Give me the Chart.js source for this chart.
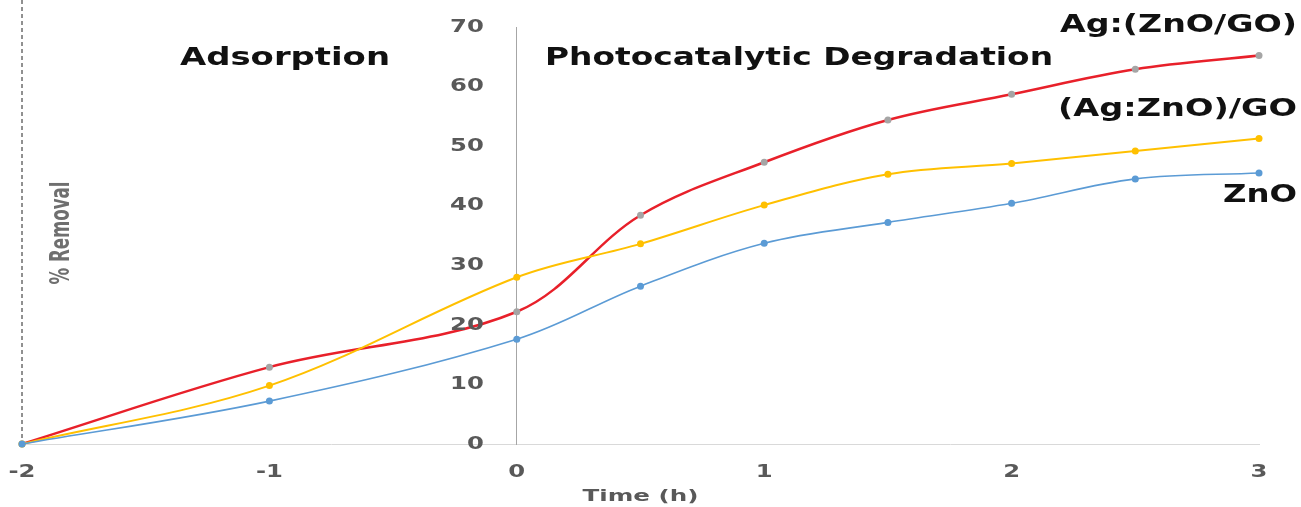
<!DOCTYPE html>
<html>
<head>
<meta charset="utf-8">
<script src="https://cdn.jsdelivr.net/npm/chart.js@4/dist/chart.umd.min.js"></script>
<style>
  body { margin: 0; background: #fff; }
  canvas { display: block; }
</style>
</head>
<body>
<canvas id="chart" width="1301" height="507"></canvas>
<script>
// time in hours (negative = dark adsorption stage)
const times = [-2, -1, 0, 0.5, 1, 1.5, 2, 2.5, 3];
const zno = [0, 7.2, 17.6, 26.5, 33.7, 37.2, 40.4, 44.5, 45.5];
const agZnoGo = [0, 9.8, 28.0, 33.6, 40.1, 45.3, 47.1, 49.2, 51.3];   // (Ag:ZnO)/GO
const agZnoGoB = [0, 12.9, 22.2, 38.4, 47.3, 54.4, 58.7, 62.9, 65.2]; // Ag:(ZnO/GO)
const xTicks = [-2, -1, 0, 1, 2, 3];
const yTicks = [0, 10, 20, 30, 40, 50, 60, 70];

const toPoints = arr => times.map((t, i) => ({ x: t, y: arr[i] }));

// draw text stretched horizontally (the source picture is wide)
function stretchText(ctx, text, x, y, opts) {
    ctx.save();
    ctx.font = opts.font;
    const w = ctx.measureText(text).width;
    const sx = opts.width ? opts.width / w : (opts.sx || 1);
    let left = x;
    if (opts.align === 'center') left = x - w * sx / 2;
    if (opts.align === 'right') left = x - w * sx;
    ctx.translate(left, y);
    ctx.scale(sx, 1);
    ctx.textAlign = 'left';
    ctx.textBaseline = 'middle';
    ctx.fillStyle = opts.color || '#111';
    ctx.fillText(text, 0, 0);
    ctx.restore();
}

const labelsPlugin = {
    id: 'labels',
    beforeDatasetsDraw(chart) {
        const { ctx, scales: { x } } = chart;
        // dashed line at the start of adsorption
        const px = x.getPixelForValue(-2);
        ctx.save();
        ctx.strokeStyle = '#222';
        ctx.lineWidth = 1;
        ctx.setLineDash([4, 3]);
        ctx.beginPath();
        ctx.moveTo(px, 0);
        ctx.lineTo(px, chart.chartArea.bottom);
        ctx.stroke();
        ctx.restore();
    },
    afterDraw(chart) {
        const { ctx, scales: { x, y }, chartArea } = chart;
        const tickFont = 'bold 18px "DejaVu Sans", Verdana, sans-serif';
        xTicks.forEach(v => {
            stretchText(ctx, String(v), x.getPixelForValue(v), 472, { font: tickFont, sx: 1.35, align: 'center', color: '#595959' });
        });
        const yLabelX = x.getPixelForValue(0) - 33;
        yTicks.forEach(v => {
            stretchText(ctx, String(v), yLabelX, y.getPixelForValue(v), { font: tickFont, sx: 1.35, align: 'right', color: '#595959' });
        });
        stretchText(ctx, 'Time (h)', (chartArea.left + chartArea.right) / 2, 497,
            { font: 'bold 16px "DejaVu Sans", sans-serif', width: 116, align: 'center', color: '#595959' });

        const big = 'bold 24px "DejaVu Sans", Verdana, sans-serif';
        stretchText(ctx, 'Adsorption', 180, 59, { font: big, width: 210 });
        stretchText(ctx, 'Photocatalytic Degradation', 545, 59, { font: big, width: 508 });
        stretchText(ctx, 'Ag:(ZnO/GO)', 1060, 25, { font: 'bold 25px "DejaVu Sans", sans-serif', width: 237 });
        stretchText(ctx, '(Ag:ZnO)/GO', 1058, 109, { font: 'bold 25px "DejaVu Sans", sans-serif', width: 239 });
        stretchText(ctx, 'ZnO', 1223, 196, { font: 'bold 24px "DejaVu Sans", sans-serif', width: 74 });

        // rotated y title
        ctx.save();
        ctx.translate(62, 233);
        ctx.rotate(-Math.PI / 2);
        ctx.font = 'bold 27px "Liberation Sans Narrow", "DejaVu Sans Condensed", sans-serif';
        const w = ctx.measureText('% Removal').width;
        ctx.scale(103 / w, 1);
        ctx.textAlign = 'center';
        ctx.textBaseline = 'middle';
        ctx.fillStyle = '#6f6f6f';
        ctx.fillText('% Removal', 0, 0);
        ctx.restore();
    }
};

new Chart(document.getElementById('chart'), {
    type: 'line',
    data: {
        datasets: [
            {
                label: 'ZnO',
                data: toPoints(zno),
                borderColor: '#5b9bd5',
                backgroundColor: '#5b9bd5',
                borderWidth: 1.6,
                pointRadius: 3.5,
                pointBorderWidth: 0
            },
            {
                label: '(Ag:ZnO)/GO',
                data: toPoints(agZnoGo),
                borderColor: '#ffc000',
                backgroundColor: '#ffc000',
                borderWidth: 2,
                pointRadius: 3.5,
                pointBorderWidth: 0
            },
            {
                label: 'Ag:(ZnO/GO)',
                data: toPoints(agZnoGoB),
                borderColor: '#e8202a',
                backgroundColor: '#a5a5a5',
                borderWidth: 2.5,
                pointRadius: 3.5,
                pointBorderWidth: 0
            }
        ]
    },
    options: {
        responsive: false,
        animation: false,
        clip: false,
        elements: { line: { tension: 0.35 } },
        layout: { padding: { left: 22, right: 42, top: 27, bottom: 0 } },
        plugins: {
            legend: { display: false },
            tooltip: { enabled: false }
        },
        scales: {
            x: {
                type: 'linear',
                min: -2,
                max: 3,
                ticks: { display: false, stepSize: 1 },
                grid: { display: false },
                border: { color: '#d9d9d9', width: 1 },
                afterFit: s => { s.height = 63; }
            },
            y: {
                min: 0,
                max: 70,
                position: { x: 0 },
                ticks: { display: false, stepSize: 10 },
                grid: { display: false },
                border: { color: '#a6a6a6', width: 1 },
                afterFit: s => { s.width = 0; }
            }
        }
    },
    plugins: [labelsPlugin]
});
</script>
</body>
</html>
